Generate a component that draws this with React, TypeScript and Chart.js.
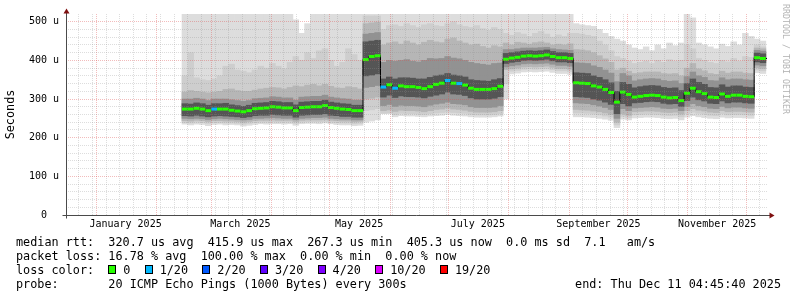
import React, { useEffect, useRef } from 'react';
import { Chart, registerables } from 'chart.js';

Chart.register(...registerables);

const MONO = "'DejaVu Sans Mono', monospace";

// ---- time axis (days since 1 Jan 2025) ----
const AXIS_START_DAY = -15.6;
const AXIS_END_DAY = 344.6;
const FIRST_BIN_DAY = 44; // 14 Feb 2025, first measurement
const BIN_DAYS = 3;
const FIRST_MONDAY_DAY = -9; // 23 Dec 2024
const LABEL_OFFSET_DAYS = 15;

const monthStartDays = [0, 31, 59, 90, 120, 151, 181, 212, 243, 273, 304, 334];
const labelledMonthIndex = [0, 2, 4, 6, 8, 10];
const monthLabels = ['January 2025', 'March 2025', 'May 2025', 'July 2025', 'September 2025', 'November 2025'];

// ---- y axis (microseconds) ----
const Y_MAX = 520;
const Y_STEP = 20;
const Y_LABEL_STEP = 100;

// ---- median RTT per 3-day bin (us) ----
const medianRtt = [
  274, 274, 276, 274, 270, 274, 274, 274, 271, 269, 267, 270, 275, 276, 277, 280, 279, 277, 277, 270, 278, 279, 280, 280, 283, 278, 276, 274, 273, 270, 270,
  402, 410, 412,
  331, 337, 328, 334, 332, 332, 330, 327, 332, 338, 341, 348, 341, 340, 336, 328, 325, 325, 325, 327, 333,
  403, 406, 408, 411, 412, 411, 412, 414, 410, 407, 407, 405,
  342, 341, 340, 334, 331, 325, 317, 292, 318, 312, 305, 307, 309, 310, 309, 305, 303, 304, 296, 315, 328, 319, 314, 305, 304, 313, 307, 310, 310, 307, 306,
  407, 405,
];

// lost pings (of 20) per bin
const lostPings = [
  0, 0, 0, 0, 0, 1, 0, 0, 0, 0,
  0, 0, 0, 0, 0, 0, 0, 0, 0, 0,
  0, 0, 0, 0, 0, 0, 0, 0, 0, 0,
  0, 0, 0, 0, 1, 0, 1, 0, 0, 0,
  0, 0, 0, 0, 0, 1, 0, 1, 0, 0,
  0, 0, 0, 0, 0, 0, 0, 0, 0, 0,
  0, 0, 0, 0, 0, 0, 0, 0, 0, 0,
  0, 0, 0, 0, 0, 0, 0, 0, 0, 0,
  0, 0, 0, 0, 0, 0, 0, 0, 0, 0,
  0, 0, 0, 0, 0, 0, 0, 0, 0, 0,
];

// ---- smoke: ping distribution bands per bin (us) ----
const smokeMax = [
  520, 520, 520, 520, 520, 520, 520, 520, 520, 520, 520, 520, 520, 520, 520, 520, 520, 520, 520, 505, 470, 495, 520, 520, 520, 520, 520, 520, 520, 520, 520,
  520, 520, 520,
  520, 520, 520, 520, 520, 520, 520, 520, 520, 520, 520, 520, 520, 520, 520, 520, 520, 520, 520, 520, 520,
  520, 520, 520, 520, 520, 520, 520, 520, 520, 520, 520, 520,
  495, 492, 490, 488, 480, 470, 462, 455, 450, 440, 432, 428, 435, 425, 440, 430, 445, 438, 445, 520, 510, 445, 440, 435, 430, 442, 436, 448, 440, 470, 462,
  455, 450,
];
const smokeHiB = [
  360, 420, 355, 350, 348, 352, 360, 385, 390, 375, 372, 368, 375, 385, 380, 392, 385, 378, 395, 410, 400, 420, 405, 425, 430, 400, 385, 395, 430, 415, 400,
  515, 515, 515,
  480, 490, 492, 488, 495, 490, 485, 492, 495, 490, 488, 495, 500, 492, 488, 485, 490, 482, 478, 485, 480,
  470, 465, 472, 468, 462, 470, 475, 468, 460, 466, 462, 470,
  470, 468, 465, 462, 450, 440, 425, 410, 405, 398, 392, 395, 398, 392, 400, 395, 402, 398, 400, 440, 430, 405, 400, 395, 392, 400, 396, 405, 398, 410, 408,
  440, 435,
];
const smokeHiC = [
  318, 322, 320, 318, 316, 318, 320, 325, 326, 322, 320, 320, 323, 326, 328, 330, 329, 326, 330, 334, 332, 336, 338, 334, 338, 333, 329, 328, 332, 330, 326,
  495, 497, 499,
  440, 445, 448, 442, 450, 445, 440, 447, 452, 448, 446, 455, 458, 450, 445, 440, 442, 436, 432, 438, 435,
  445, 440, 447, 445, 442, 446, 448, 445, 440, 442, 440, 443,
  428, 427, 425, 420, 412, 404, 395, 375, 380, 372, 366, 368, 370, 370, 370, 366, 365, 366, 360, 380, 392, 378, 373, 366, 364, 372, 367, 370, 370, 367, 366,
  432, 430,
];
const smokeHiD = [
  300, 300, 302, 300, 296, 300, 300, 300, 298, 296, 294, 296, 301, 302, 303, 306, 305, 303, 303, 297, 305, 306, 307, 307, 310, 305, 303, 301, 300, 297, 297,
  468, 470, 472,
  395, 400, 398, 400, 402, 398, 396, 400, 405, 404, 405, 410, 406, 404, 400, 395, 392, 390, 388, 392, 393,
  428, 428, 430, 432, 432, 432, 433, 434, 430, 428, 427, 426,
  394, 393, 392, 386, 382, 375, 367, 345, 366, 360, 347, 350, 352, 353, 352, 348, 346, 347, 340, 358, 370, 360, 356, 348, 347, 355, 350, 352, 352, 350, 349,
  426, 424,
];
const smokeHiE = [
  288, 287, 290, 288, 284, 288, 288, 289, 285, 283, 281, 284, 289, 290, 291, 294, 293, 291, 291, 285, 292, 293, 294, 294, 297, 292, 290, 288, 287, 284, 284,
  448, 450, 452,
  352, 357, 352, 355, 355, 354, 352, 352, 356, 360, 362, 366, 362, 360, 357, 350, 348, 347, 346, 350, 353,
  418, 420, 422, 424, 425, 424, 425, 427, 423, 420, 420, 418,
  368, 367, 366, 360, 356, 350, 342, 320, 343, 338, 329, 332, 334, 335, 334, 330, 328, 329, 322, 340, 352, 343, 338, 330, 329, 337, 331, 334, 334, 331, 330,
  419, 417,
];
const smokeLoE = [
  257, 256, 258, 256, 254, 256, 257, 256, 255, 254, 252, 254, 257, 258, 258, 260, 259, 258, 258, 253, 258, 259, 260, 260, 262, 258, 257, 255, 255, 253, 253,
  360, 362, 365,
  305, 310, 304, 308, 306, 306, 305, 303, 307, 310, 313, 318, 313, 312, 309, 303, 300, 300, 300, 302, 306,
  392, 395, 397, 400, 401, 400, 401, 403, 399, 396, 396, 394,
  306, 305, 304, 300, 297, 292, 286, 262, 288, 282, 290, 291, 293, 294, 293, 289, 287, 288, 281, 296, 305, 298, 295, 289, 288, 295, 290, 292, 292, 290, 289,
  396, 394,
];
const smokeLoD = [
  250, 249, 250, 249, 247, 249, 250, 249, 248, 247, 246, 247, 250, 250, 251, 252, 251, 250, 250, 247, 250, 251, 252, 252, 253, 250, 249, 248, 248, 246, 246,
  330, 332, 335,
  283, 286, 281, 284, 283, 283, 282, 280, 284, 287, 289, 292, 288, 287, 285, 280, 278, 278, 278, 279, 283,
  383, 386, 388, 391, 392, 391, 392, 393, 390, 387, 387, 385,
  290, 289, 288, 285, 282, 278, 273, 250, 275, 270, 277, 278, 279, 280, 279, 276, 275, 276, 270, 281, 288, 283, 280, 276, 275, 281, 277, 279, 279, 277, 276,
  388, 386,
];
const smokeLoC = [
  244, 243, 245, 244, 242, 244, 244, 243, 243, 242, 240, 242, 244, 245, 245, 246, 245, 245, 245, 242, 245, 246, 246, 246, 247, 245, 244, 243, 243, 241, 242,
  300, 302, 305,
  270, 272, 268, 271, 270, 270, 269, 267, 270, 273, 274, 277, 274, 273, 271, 268, 266, 266, 266, 267, 270,
  376, 378, 380, 383, 384, 383, 384, 385, 382, 379, 379, 377,
  273, 272, 271, 269, 267, 264, 260, 240, 262, 258, 267, 268, 269, 269, 268, 266, 265, 266, 261, 270, 275, 271, 269, 266, 265, 270, 267, 268, 268, 267, 266,
  381, 379,
];
const smokeLoB = [
  239, 238, 240, 239, 237, 239, 239, 238, 238, 237, 235, 237, 239, 240, 240, 241, 240, 240, 240, 237, 240, 241, 241, 241, 242, 240, 239, 238, 238, 236, 237,
  270, 272, 275,
  263, 264, 260, 263, 262, 262, 261, 260, 262, 264, 265, 267, 265, 264, 263, 260, 259, 259, 259, 260, 262,
  340, 372, 374, 377, 378, 377, 378, 379, 376, 373, 373, 371,
  264, 264, 263, 261, 259, 256, 253, 233, 255, 252, 259, 260, 261, 261, 260, 258, 257, 258, 254, 262, 266, 263, 261, 258, 257, 262, 259, 260, 260, 259, 258,
  375, 373,
];
const smokeMin = [
  235, 233, 235, 234, 231, 234, 235, 233, 234, 233, 230, 232, 234, 236, 235, 236, 236, 235, 236, 232, 236, 237, 237, 236, 238, 236, 234, 233, 233, 231, 232,
  240, 243, 246,
  262, 262, 254, 257, 256, 256, 255, 254, 256, 257, 258, 260, 258, 257, 256, 254, 253, 253, 253, 254, 256,
  300, 365, 367, 370, 371, 370, 371, 372, 369, 366, 366, 364,
  254, 254, 253, 252, 250, 248, 245, 226, 248, 246, 251, 252, 253, 253, 252, 250, 249, 250, 246, 253, 257, 254, 252, 250, 249, 253, 251, 252, 252, 251, 250,
  368, 366,
];

// ---- loss colour legend ----
const lossLabels = ['0', '1/20', '2/20', '3/20', '4/20', '10/20', '19/20'];
const lossLimits = [0, 1, 2, 3, 4, 10, 19];
const lossColors = ['#26ff00', '#00b8ff', '#0059ff', '#5e00ff', '#7e00ff', '#dd00ff', '#ff0000'];

// ---- legend text ----
const medianStats = { avg: '320.7', max: '415.9', min: '267.3', now: '405.3', sd: '0.0', amS: '7.1' };
const lossStats = { avg: '16.78', max: '100.00', min: '0.00', now: '0.00' };
const probeText = '20 ICMP Echo Pings (1000 Bytes) every 300s';
const endText = 'end: Thu Dec 11 04:45:40 2025';

const SMOKE_COLORS = ['#dddddd', '#cecece', '#b6b6b6', '#929292', '#555555'];
const MAJOR_GRID = 'rgba(222,79,79,0.38)';
const MINOR_GRID = 'rgba(143,143,143,0.3)';

function lossColor(lost: number | undefined): string {
  const n = lost ?? 0;
  for (let i = 0; i < lossLimits.length; i++) if (n <= lossLimits[i]) return lossColors[i];
  return lossColors[lossColors.length - 1];
}

const labelDays = labelledMonthIndex.map((i) => monthStartDays[i] + LABEL_OFFSET_DAYS);

function buildXTicks(): number[] {
  const t: number[] = [];
  for (let d = FIRST_MONDAY_DAY; d <= AXIS_END_DAY; d += 7) {
    if (!monthStartDays.includes(d)) t.push(d);
  }
  monthStartDays.forEach((d) => t.push(d));
  labelDays.forEach((d) => t.push(d));
  return t.sort((a, b) => a - b);
}

const axisPlugin = {
  id: 'rrdAxes',
  afterDraw(chart: any) {
    const { ctx, chartArea: a } = chart;
    const x = Math.round(a.left) + 0.5;
    const y = Math.round(a.bottom) + 0.5;
    ctx.save();
    ctx.strokeStyle = '#4a4a4a';
    ctx.lineWidth = 1;
    ctx.beginPath();
    ctx.moveTo(x - 4, y);
    ctx.lineTo(a.right + 3, y);
    ctx.moveTo(x, y + 3);
    ctx.lineTo(x, a.top - 1);
    ctx.stroke();
    ctx.fillStyle = '#7f1010';
    ctx.beginPath();
    ctx.moveTo(a.right + 2.5, y - 3);
    ctx.lineTo(a.right + 7.5, y);
    ctx.lineTo(a.right + 2.5, y + 3);
    ctx.closePath();
    ctx.fill();
    ctx.beginPath();
    ctx.moveTo(x - 3, a.top - 0.5);
    ctx.lineTo(x, a.top - 5.5);
    ctx.lineTo(x + 3, a.top - 0.5);
    ctx.closePath();
    ctx.fill();
    ctx.restore();
  },
};

export default function App() {
  const ref = useRef<HTMLCanvasElement>(null);

  useEffect(() => {
    const canvas = ref.current;
    if (!canvas) return;

    const binStart = medianRtt.map((_, k) => FIRST_BIN_DAY + BIN_DAYS * k);
    const binCenter = binStart.map((d) => d + BIN_DAYS / 2);

    const band = (lo: number[], hi: number[], color: string, order: number) => ({
      type: 'bar' as const,
      xAxisID: 'xb',
      yAxisID: 'y',
      data: lo.map((v, k) => ({ x: binCenter[k], y: [v, hi[k]] })),
      backgroundColor: color,
      borderWidth: 0,
      grouped: false,
      barPercentage: 1,
      categoryPercentage: 1,
      order,
    });

    const stepData = medianRtt.map((v, k) => ({ x: binStart[k], y: v }));
    stepData.push({ x: AXIS_END_DAY, y: medianRtt[medianRtt.length - 1] });

    const halfBinPx = (c: any) => {
      const s = c.chart.scales.x;
      if (!s) return 3;
      const w = (s.getPixelForValue(BIN_DAYS) - s.getPixelForValue(0)) / 2;
      return isFinite(w) && w > 0 ? w : 3;
    };

    const xTicks = buildXTicks();

    const chart = new Chart(canvas, {
      type: 'line',
      data: {
        datasets: [
          {
            type: 'line',
            xAxisID: 'x',
            yAxisID: 'y',
            data: medianRtt.map((v, k) => ({ x: binCenter[k], y: v })),
            showLine: false,
            pointStyle: 'line',
            pointRadius: halfBinPx,
            pointHoverRadius: halfBinPx,
            pointBorderWidth: 3,
            pointBorderColor: (c: any) => lossColor(lostPings[c.dataIndex]),
            pointBackgroundColor: (c: any) => lossColor(lostPings[c.dataIndex]),
            order: 1,
          } as any,
          {
            type: 'line',
            xAxisID: 'x',
            yAxisID: 'y',
            data: stepData,
            stepped: true,
            borderColor: '#000000',
            borderWidth: 1,
            pointRadius: 0,
            fill: false,
            order: 2,
          } as any,
          band(smokeLoE, smokeHiE, SMOKE_COLORS[4], 6),
          band(smokeLoD, smokeHiD, SMOKE_COLORS[3], 7),
          band(smokeLoC, smokeHiC, SMOKE_COLORS[2], 8),
          band(smokeLoB, smokeHiB, SMOKE_COLORS[1], 9),
          band(smokeMin, smokeMax, SMOKE_COLORS[0], 10),
        ],
      },
      options: {
        responsive: false,
        devicePixelRatio: 1,
        animation: false,
        events: [],
        layout: { padding: { top: 14, right: 30, bottom: 62, left: 0 } },
        plugins: { legend: { display: false }, tooltip: { enabled: false } },
        scales: {
          x: {
            type: 'linear',
            position: 'bottom',
            min: AXIS_START_DAY,
            max: AXIS_END_DAY,
            offset: false,
            bounds: 'data',
            afterBuildTicks: (scale: any) => {
              scale.ticks = xTicks.map((value) => ({ value }));
            },
            afterFit: (scale: any) => {
              scale.height = 20;
            },
            ticks: {
              autoSkip: false,
              maxRotation: 0,
              minRotation: 0,
              padding: 3,
              color: '#000000',
              font: { family: MONO, size: 10 },
              callback: (v: any) => {
                const i = labelDays.indexOf(Number(v));
                return i >= 0 ? monthLabels[i] : '';
              },
            },
            grid: {
              z: 1,
              offset: false,
              drawTicks: false,
              lineWidth: 1,
              color: (c: any) => {
                const v = c.tick ? c.tick.value : NaN;
                if (labelDays.includes(v)) return 'rgba(0,0,0,0)';
                if (monthStartDays.includes(v)) return MAJOR_GRID;
                return MINOR_GRID;
              },
            },
            border: { display: false, dash: [1, 1] },
          },
          xb: {
            type: 'linear',
            display: false,
            min: AXIS_START_DAY,
            max: AXIS_END_DAY,
            offset: false,
            bounds: 'data',
            grid: { offset: false },
          },
          y: {
            type: 'linear',
            position: 'left',
            min: 0,
            max: Y_MAX,
            afterFit: (scale: any) => {
              scale.width = 66;
            },
            ticks: {
              stepSize: Y_STEP,
              autoSkip: false,
              padding: 7,
              color: '#000000',
              font: { family: MONO, size: 10 },
              callback: (v: any) => {
                const n = Number(v);
                if (n % Y_LABEL_STEP !== 0 || n >= Y_MAX) return '';
                return n === 0 ? '0  ' : `${n} u`;
              },
            },
            grid: {
              z: 1,
              drawTicks: false,
              lineWidth: 1,
              color: (c: any) => {
                const v = c.tick ? c.tick.value : NaN;
                if (v === 0 || v >= Y_MAX) return 'rgba(0,0,0,0)';
                return v % Y_LABEL_STEP === 0 ? MAJOR_GRID : MINOR_GRID;
              },
            },
            border: { display: false, dash: [1, 1] },
            title: {
              display: true,
              text: 'Seconds',
              color: '#000000',
              font: { family: MONO, size: 11.8 },
              padding: { top: 4, bottom: 0 },
            },
          },
        },
      } as any,
      plugins: [axisPlugin],
    });

    return () => chart.destroy();
  }, []);

  const textStyle: React.CSSProperties = {
    fontFamily: MONO,
    fontSize: '11.8px',
    lineHeight: '14px',
    whiteSpace: 'pre',
    color: '#000',
  };

  return (
    <div style={{ position: 'absolute', left: 0, top: 0, width: 797, height: 297, background: '#ffffff', overflow: 'hidden' }}>
      <canvas ref={ref} width={797} height={297} style={{ display: 'block', width: 797, height: 297 }} />
      <div style={{ ...textStyle, position: 'absolute', left: 16, top: 235, width: 765 }}>
        <div>{`median rtt:  ${medianStats.avg} us avg  ${medianStats.max} us max  ${medianStats.min} us min  ${medianStats.now} us now  ${medianStats.sd} ms sd  ${medianStats.amS}   am/s`}</div>
        <div>{`packet loss: ${lossStats.avg} % avg  ${lossStats.max} % max  ${lossStats.min} % min  ${lossStats.now} % now`}</div>
        <div>
          {'loss color:  '}
          {lossLabels.map((l, i) => (
            <span key={l}>
              <span
                style={{
                  display: 'inline-block',
                  width: 8,
                  height: 9,
                  boxSizing: 'border-box',
                  border: '1px solid #000',
                  background: lossColors[i],
                  marginRight: 7,
                  verticalAlign: 'baseline',
                }}
              />
              {l + (i < lossLabels.length - 1 ? '  ' : '')}
            </span>
          ))}
        </div>
        <div style={{ display: 'flex', justifyContent: 'space-between' }}>
          <span>{`probe:       ${probeText}`}</span>
          <span>{endText}</span>
        </div>
      </div>
      <div
        style={{
          position: 'absolute',
          left: 791,
          top: 4,
          transform: 'rotate(90deg)',
          transformOrigin: '0 0',
          fontFamily: MONO,
          fontSize: '8.3px',
          lineHeight: '10px',
          whiteSpace: 'pre',
          color: '#b4b4b4',
        }}
      >
        RRDTOOL / TOBI OETIKER
      </div>
    </div>
  );
}
